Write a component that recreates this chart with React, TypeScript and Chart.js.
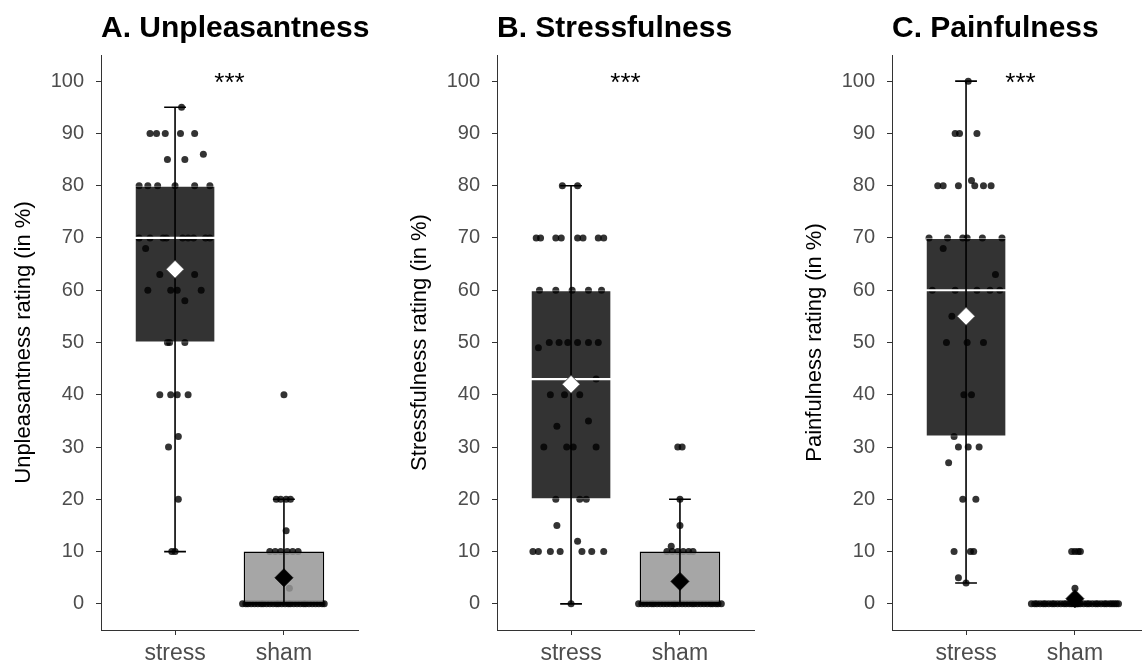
import React, { useEffect, useRef } from 'react';
import { Chart, registerables } from 'chart.js';

Chart.register(...registerables);
Chart.defaults.font.family = '"Liberation Sans", Arial, sans-serif';

// ---------- shared ----------
const groups = ['stress', 'sham'];
const yTickValues = [0, 10, 20, 30, 40, 50, 60, 70, 80, 90, 100];

// ---------- A. Unpleasantness ----------
const unpStressValues = [95, 90, 90, 90, 90, 90, 86, 85, 85, 80, 80, 80, 80, 80, 80, 70, 70, 70, 70, 70, 70, 70, 70, 70, 68, 63, 63, 60, 60, 60, 60, 58, 50, 50, 50, 40, 40, 40, 40, 32, 30, 20, 10, 10];
const unpStressJitter = [0.06, -0.23, -0.17, -0.09, 0.05, 0.18, 0.26, -0.07, 0.09, -0.33, -0.25, -0.16, 0, 0.18, 0.32, -0.33, -0.23, -0.11, -0.08, 0.07, 0.12, 0.17, 0.28, 0.32, -0.27, -0.14, 0.18, -0.25, -0.04, 0.02, 0.24, 0.09, -0.07, -0.05, 0.09, -0.14, -0.04, 0.02, 0.12, 0.03, -0.06, 0.03, -0.03, 0];
const unpShamValues = [40, 20, 20, 20, 20, 14, 10, 10, 10, 10, 10, 10, 3, 0, 0, 0, 0, 0, 0, 0, 0, 0, 0, 0, 0, 0, 0, 0, 0, 0, 0, 0, 0, 0, 0, 0, 0, 0, 0, 0, 0];
const unpShamJitter = [0, -0.07, -0.03, 0.02, 0.06, 0.02, -0.13, -0.08, -0.03, 0.03, 0.08, 0.13, 0.05, -0.38, -0.35, -0.33, -0.3, -0.27, -0.24, -0.21, -0.19, -0.16, -0.13, -0.1, -0.07, -0.05, -0.02, 0.01, 0.04, 0.06, 0.09, 0.12, 0.15, 0.18, 0.2, 0.23, 0.26, 0.29, 0.32, 0.35, 0.37];
const unpQ1 = [50, 0];
const unpMedian = [70, 0];
const unpQ3 = [80, 10];
const unpWhiskerLow = [10, 0];
const unpWhiskerHigh = [95, 20];
const unpMean = [64, 5];

// ---------- B. Stressfulness ----------
const strStressValues = [80, 80, 70, 70, 70, 70, 70, 70, 70, 70, 60, 60, 60, 60, 60, 50, 50, 50, 50, 50, 50, 49, 43, 40, 40, 40, 35, 34, 30, 30, 30, 30, 20, 20, 20, 15, 12, 10, 10, 10, 10, 10, 10, 10, 0];
const strStressJitter = [-0.08, 0.06, -0.32, -0.28, -0.14, -0.09, 0.06, 0.11, 0.25, 0.3, -0.29, -0.14, 0.01, 0.16, 0.28, -0.2, -0.11, -0.03, 0.06, 0.16, 0.25, -0.3, 0.23, -0.19, -0.06, 0.08, 0.16, -0.13, -0.25, -0.04, 0.02, 0.23, -0.14, 0.08, 0.14, -0.13, 0.06, -0.35, -0.3, -0.19, -0.1, 0.1, 0.19, 0.3, 0];
const strShamValues = [30, 30, 20, 15, 11, 10, 10, 10, 10, 10, 10, 0, 0, 0, 0, 0, 0, 0, 0, 0, 0, 0, 0, 0, 0, 0, 0, 0, 0, 0, 0, 0, 0, 0, 0, 0, 0, 0, 0];
const strShamJitter = [-0.02, 0.02, 0, 0, -0.08, -0.12, -0.07, -0.02, 0.03, 0.08, 0.12, -0.38, -0.35, -0.32, -0.29, -0.26, -0.24, -0.21, -0.18, -0.15, -0.12, -0.09, -0.06, -0.04, -0.01, 0.02, 0.05, 0.08, 0.11, 0.13, 0.16, 0.19, 0.22, 0.25, 0.28, 0.3, 0.33, 0.35, 0.38];
const strQ1 = [20, 0];
const strMedian = [43, 0];
const strQ3 = [60, 10];
const strWhiskerLow = [0, 0];
const strWhiskerHigh = [80, 20];
const strMean = [42, 4.3];

// ---------- C. Painfulness ----------
const painStressValues = [100, 90, 90, 90, 81, 80, 80, 80, 80, 80, 80, 70, 70, 70, 70, 70, 70, 68, 63, 60, 60, 60, 60, 60, 55, 50, 50, 50, 40, 40, 32, 30, 30, 30, 27, 20, 20, 10, 10, 10, 5, 4];
const painStressJitter = [0.02, -0.1, -0.06, 0.1, 0.05, -0.26, -0.21, -0.07, 0.08, 0.16, 0.23, -0.34, -0.17, -0.03, 0.01, 0.15, 0.33, -0.21, 0.27, -0.31, -0.1, 0.1, 0.22, 0.31, -0.13, -0.18, 0.01, 0.16, -0.02, 0.05, -0.11, -0.07, 0.02, 0.12, -0.16, -0.03, 0.09, -0.11, 0.04, 0.07, -0.07, 0];
const painShamValues = [10, 10, 10, 10, 3, 0, 0, 0, 0, 0, 0, 0, 0, 0, 0, 0, 0, 0, 0, 0, 0, 0, 0, 0, 0, 0, 0, 0, 0, 0, 0, 0, 0, 0, 0, 0, 0, 0, 0, 0];
const painShamJitter = [-0.03, 0, 0.03, 0.05, 0, -0.4, -0.37, -0.35, -0.32, -0.29, -0.27, -0.24, -0.21, -0.19, -0.16, -0.13, -0.1, -0.08, -0.05, -0.03, 0, 0.03, 0.05, 0.08, 0.11, 0.13, 0.16, 0.19, 0.21, 0.24, 0.27, 0.29, 0.32, 0.34, 0.36, 0.38, 0.4, -0.01, 0.02, 0.01];
const painQ1 = [32, 0];
const painMedian = [60, 0];
const painQ3 = [70, 0];
const painWhiskerLow = [4, 0];
const painWhiskerHigh = [100, 0];
const painMean = [55, 1];

const sigLabel = '***';
const sigValue = 100;

type PanelCfg = {
  title: string;
  yTitle: string;
  stressValues: number[];
  stressJitter: number[];
  shamValues: number[];
  shamJitter: number[];
  q1: number[];
  median: number[];
  q3: number[];
  whiskerLow: number[];
  whiskerHigh: number[];
  mean: number[];
};

const panels: PanelCfg[] = [
  { title: 'A. Unpleasantness', yTitle: 'Unpleasantness rating (in %)', stressValues: unpStressValues, stressJitter: unpStressJitter, shamValues: unpShamValues, shamJitter: unpShamJitter, q1: unpQ1, median: unpMedian, q3: unpQ3, whiskerLow: unpWhiskerLow, whiskerHigh: unpWhiskerHigh, mean: unpMean },
  { title: 'B. Stressfulness', yTitle: 'Stressfulness rating (in %)', stressValues: strStressValues, stressJitter: strStressJitter, shamValues: strShamValues, shamJitter: strShamJitter, q1: strQ1, median: strMedian, q3: strQ3, whiskerLow: strWhiskerLow, whiskerHigh: strWhiskerHigh, mean: strMean },
  { title: 'C. Painfulness', yTitle: 'Painfulness rating (in %)', stressValues: painStressValues, stressJitter: painStressJitter, shamValues: painShamValues, shamJitter: painShamJitter, q1: painQ1, median: painMedian, q3: painQ3, whiskerLow: painWhiskerLow, whiskerHigh: painWhiskerHigh, mean: painMean },
];

const PANEL_W = 396;
const PANEL_H = 663;
const panelLefts = [0, 396, 791];

const medianColors = ['#FFFFFF', '#000000'];

function Panel({ cfg, left }: { cfg: PanelCfg; left: number }) {
  const ref = useRef<HTMLCanvasElement>(null);
  useEffect(() => {
    const canvas = ref.current;
    if (!canvas) return;

    const points = [
      ...cfg.stressValues.map((v, i) => ({ x: 1 + cfg.stressJitter[i], y: v })),
      ...cfg.shamValues.map((v, i) => ({ x: 2 + cfg.shamJitter[i], y: v })),
    ];

    const extras = {
      id: 'boxExtras',
      afterDatasetDraw(chart: any, args: any) {
        if (args.index !== 0) return;
        const ctx = chart.ctx;
        const xs = chart.scales.x;
        const ys = chart.scales.y;
        const bars = chart.getDatasetMeta(0).data;
        ctx.save();
        groups.forEach((_, i) => {
          const cx = xs.getPixelForValue(i + 1);
          const half = bars[i].width / 2;
          // median
          const my = ys.getPixelForValue(cfg.median[i]);
          ctx.strokeStyle = medianColors[i];
          ctx.lineWidth = 2.2;
          ctx.beginPath();
          ctx.moveTo(cx - half, my);
          ctx.lineTo(cx + half, my);
          ctx.stroke();
          // whisker
          const lo = ys.getPixelForValue(cfg.whiskerLow[i]);
          const hi = ys.getPixelForValue(cfg.whiskerHigh[i]);
          ctx.strokeStyle = '#000';
          ctx.lineWidth = 1.6;
          ctx.beginPath();
          ctx.moveTo(cx, lo);
          ctx.lineTo(cx, hi);
          const c0 = xs.getPixelForValue(i + 1 - 0.1);
          const c1 = xs.getPixelForValue(i + 1 + 0.1);
          ctx.moveTo(c0, lo);
          ctx.lineTo(c1, lo);
          ctx.moveTo(c0, hi);
          ctx.lineTo(c1, hi);
          ctx.stroke();
        });
        ctx.restore();
      },
      afterDraw(chart: any) {
        const ctx = chart.ctx;
        const xs = chart.scales.x;
        const ys = chart.scales.y;
        ctx.save();
        // panel title, left-aligned with the plot panel
        ctx.fillStyle = '#000';
        ctx.font = 'bold 30px "Liberation Sans", Arial, sans-serif';
        ctx.textAlign = 'left';
        ctx.textBaseline = 'alphabetic';
        ctx.fillText(cfg.title, chart.chartArea.left, 37);
        // significance marker
        ctx.font = '26px "Liberation Sans", Arial, sans-serif';
        ctx.textAlign = 'center';
        ctx.fillText(sigLabel, xs.getPixelForValue(1.5), ys.getPixelForValue(sigValue) + 10);
        ctx.restore();
      },
    };

    const chart = new Chart(canvas, {
      type: 'scatter',
      data: {
        datasets: [
          {
            type: 'bar',
            data: groups.map((_, i) => ({ x: i + 1, y: [cfg.q1[i], cfg.q3[i]] })) as any,
            backgroundColor: ['rgba(0,0,0,0.8)', 'rgba(150,150,150,0.85)'],
            borderColor: ['rgba(255,255,255,0.45)', '#000000'],
            borderWidth: [1, 1.5] as any,
            borderSkipped: false,
            barPercentage: 0.74,
            categoryPercentage: 1,
            order: 2,
          } as any,
          {
            type: 'scatter',
            data: points,
            pointRadius: 3.5,
            pointBackgroundColor: 'rgba(0,0,0,0.8)',
            pointBorderWidth: 0,
            order: 3,
          } as any,
          {
            type: 'scatter',
            data: groups.map((_, i) => ({ x: i + 1, y: cfg.mean[i] })),
            pointStyle: 'rectRot',
            pointRadius: 9,
            pointBackgroundColor: ['#FFFFFF', '#000000'],
            pointBorderColor: ['#333333', '#000000'],
            pointBorderWidth: 0.8,
            order: 1,
          } as any,
        ],
      },
      options: {
        responsive: false,
        animation: false,
        events: [],
        layout: { padding: { left: 0, right: 38, top: 55, bottom: 0 } },
        plugins: {
          legend: { display: false },
          tooltip: { enabled: false },
          title: { display: false },
        },
        scales: {
          x: {
            type: 'linear',
            min: 0.32,
            max: 2.68,
            offset: false,
            afterBuildTicks: (s: any) => {
              s.ticks = groups.map((_, i) => ({ value: i + 1 }));
            },
            afterFit: (s: any) => {
              s.height = 33;
            },
            ticks: {
              callback: (_v: any, i: number) => groups[i],
              color: '#4D4D4D',
              font: { size: 23 },
              padding: 5,
              autoSkip: false,
              maxRotation: 0,
            },
            grid: { offset: false, drawOnChartArea: false, drawTicks: true, tickLength: 5, color: '#333333' },
            border: { display: true, color: '#333333', width: 1 },
          },
          y: {
            type: 'linear',
            min: -5,
            max: 105,
            afterBuildTicks: (s: any) => {
              s.ticks = yTickValues.map((v) => ({ value: v }));
            },
            afterFit: (s: any) => {
              s.width = 101;
            },
            ticks: {
              callback: (v: any) => String(v),
              color: '#4D4D4D',
              font: { size: 20 },
              padding: 12,
              autoSkip: false,
            },
            title: {
              display: true,
              text: cfg.yTitle,
              color: '#000000',
              font: { size: 22 },
              padding: { top: 11, bottom: 0 },
            },
            grid: { offset: false, drawOnChartArea: false, drawTicks: true, tickLength: 5, color: '#333333' },
            border: { display: true, color: '#333333', width: 1 },
          },
        },
      } as any,
      plugins: [extras as any],
    });
    return () => chart.destroy();
  }, [cfg]);

  return (
    <canvas
      ref={ref}
      width={PANEL_W}
      height={PANEL_H}
      style={{ position: 'absolute', left, top: 0, width: PANEL_W, height: PANEL_H }}
    />
  );
}

export default function App() {
  return (
    <div
      style={{
        position: 'fixed',
        left: 0,
        top: 0,
        width: 1142,
        height: 663,
        overflow: 'hidden',
        background: '#FFFFFF',
      }}
    >
      {panels.map((p, i) => (
        <Panel key={p.title} cfg={p} left={panelLefts[i]} />
      ))}
    </div>
  );
}
